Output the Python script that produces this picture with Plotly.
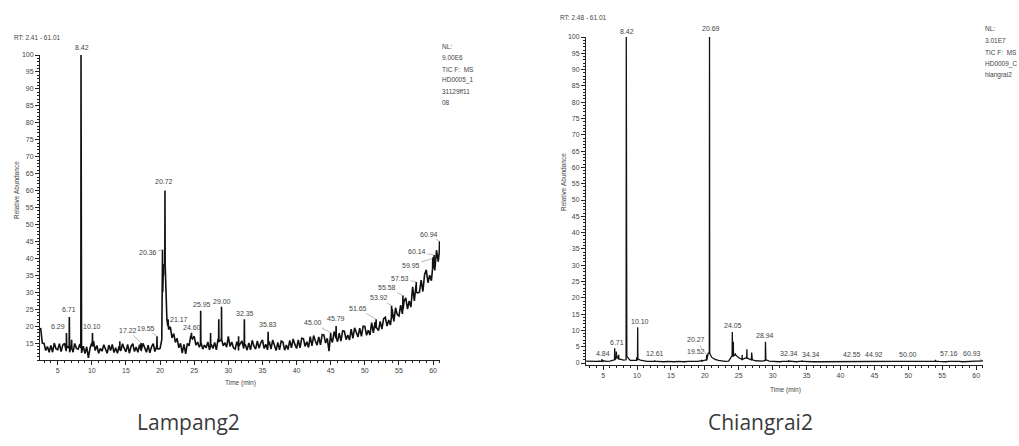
import plotly.graph_objects as go

# ---------------- Lampang2 (left) ----------------
lam_start, lam_step = 2.5, 0.25
lam_base = [
    19.5, 15.0,
    14.9, 12.8, 14.0, 12.3,
    14.3, 12.3, 15.0, 13.3,
    13.0, 14.8, 12.5, 14.4,
    14.9, 12.6, 13.9, 12.3,
    14.2, 12.3, 14.9, 13.4,
    13.2, 14.7, 12.1, 14.1,
    11.9, 13.9, 10.6, 13.6,
    15.0, 15.6, 12.8, 14.3,
    12.0, 13.4, 12.6, 14.5,
    13.1, 12.0, 14.4, 12.8,
    14.6, 12.2, 13.6, 12.0,
    14.1, 12.7, 14.8, 13.4,
    12.4, 14.6, 12.0, 14.0,
    14.8, 12.5, 13.8, 12.3,
    14.5, 12.6, 14.9, 13.5,
    12.3, 14.4, 12.1, 13.9,
    14.8, 12.5, 14.0, 13.2,
    13.4, 16.0, 38.0, 35.0,
    22.0, 19.0, 19.8, 16.5,
    17.8, 15.2, 16.4, 13.6,
    14.9, 12.0, 14.6, 11.8,
    14.9, 14.2, 17.2, 16.2,
    17.0, 14.4, 15.3, 13.8,
    15.2, 13.2, 14.4, 13.6,
    15.3, 13.0, 14.6, 13.4,
    15.2, 13.0, 16.2, 15.6,
    17.0, 14.2, 15.1, 13.8,
    17.0, 14.0, 15.3, 13.6,
    13.2, 15.4, 12.8, 14.8,
    15.6, 13.4, 14.5, 12.9,
    15.0, 13.0, 15.8, 14.1,
    13.2, 15.6, 13.5, 15.1,
    15.9, 13.4, 14.6, 13.0,
    15.5, 13.2, 15.9, 14.0,
    12.8, 15.2, 13.0, 15.6,
    15.3, 12.9, 14.4, 13.1,
    15.8, 13.6, 16.2, 14.6,
    13.4, 15.9, 13.6, 16.4,
    16.3, 14.0, 15.4, 13.7,
    16.9, 14.2, 17.2, 15.6,
    14.4, 16.8, 14.5, 17.5,
    17.4, 15.0, 16.4, 12.6,
    17.8, 15.2, 18.4, 16.6,
    15.4, 17.9, 15.6, 18.6,
    18.5, 16.0, 17.4, 15.9,
    19.1, 16.4, 19.5, 17.8,
    16.8, 19.4, 17.0, 20.0,
    19.9, 17.3, 18.8, 17.4,
    21.0, 18.0, 21.2, 19.4,
    18.7, 21.4, 19.1, 22.2,
    22.6, 20.0, 21.8, 20.3,
    25.0, 21.4, 25.4, 23.4,
    23.0, 26.2, 23.6, 27.4,
    28.3, 25.0, 27.4, 25.6,
    31.6, 27.4, 32.2, 29.8,
    30.0, 33.6, 30.2, 35.2,
    36.6, 32.8, 35.0, 33.4,
    40.4, 36.4, 42.4, 39.0,
    43.5,
]
lam_peak_t = [6.29, 6.71, 7.05, 8.42, 10.10, 14.10, 17.22, 19.55, 20.36, 20.72, 21.17,
              24.60, 25.95, 27.40, 28.60, 29.00, 31.50, 32.35, 35.83, 45.00, 45.79,
              51.65, 53.92, 55.58, 57.53, 59.95, 60.14, 60.94]
lam_peak_h = [18.0, 22.7, 16.0, 100.0, 18.0, 15.5, 15.0, 17.0, 42.5, 60.0, 22.0,
              18.0, 24.5, 18.0, 22.0, 25.7, 17.0, 22.0, 18.3, 18.0, 20.0,
              22.0, 26.0, 29.0, 33.0, 40.0, 41.0, 45.0]
lam_peak_b = [13.5, 13.5, 13.5, 13.5, 14.0, 13.0, 13.0, 13.5, 30.0, 38.0, 20.0,
              16.5, 14.5, 14.0, 15.5, 16.0, 14.0, 14.5, 14.5, 16.5, 16.5,
              19.5, 22.5, 25.0, 30.0, 37.0, 38.0, 42.0]
lam_labels = ["6.29", "6.71", "8.42", "10.10", "17.22", "19.55", "20.36", "20.72", "21.17",
              "24.60", "25.95", "29.00", "32.35", "35.83", "45.00", "45.79", "51.65",
              "53.92", "55.58", "57.53", "59.95", "60.14", "60.94"]
lam_lab_shift = [(-8, 6), (0, 7), (1, 8), (0, 6), (-13, 13), (-11, 8), (-15, -3), (-1, 9), (11, 0),
                 (1, 5), (1, 6), (0, 5), (1, 6), (0, 7), (-18, 10), (0, 8), (-18, 11),
                 (-13, 8), (-16, 8), (-16, 4), (-22, -7), (-17, 3), (-11, 7)]

# ---------------- Chiangrai2 (right) ----------------
chi_start, chi_step = 2.5, 0.5
chi_base = [
    0.6, 0.5, 0.4, 0.5, 0.6, 0.7, 0.5, 0.6, 1.0, 2.2,
    1.2, 0.9, 2.0, 0.8, 0.7, 1.3, 0.9, 0.6, 0.5, 0.5,
    0.6, 0.5, 0.4, 0.4, 0.5, 0.4, 0.4, 0.5, 0.4, 0.4,
    0.5, 0.4, 0.5, 0.5, 0.7, 0.9, 3.0, 1.8, 1.1, 0.8,
    0.6, 0.5, 0.6, 2.2, 2.8, 1.6, 1.1, 1.6, 1.3, 1.0,
    0.7, 0.6, 0.6, 1.0, 0.6, 0.5, 0.5, 0.4, 0.5, 0.5,
    0.6, 0.4, 0.4, 0.5, 0.5, 0.4, 0.4, 0.4, 0.4, 0.4,
    0.4, 0.4, 0.4, 0.4, 0.4, 0.4, 0.4, 0.4, 0.4, 0.4,
    0.5, 0.4, 0.4, 0.4, 0.4, 0.5, 0.4, 0.4, 0.4, 0.4,
    0.4, 0.4, 0.4, 0.4, 0.4, 0.5, 0.4, 0.4, 0.4, 0.4,
    0.4, 0.5, 0.6, 0.8, 0.5, 0.4, 0.4, 0.5, 0.5, 0.6,
    0.5, 0.4, 0.5, 0.5, 0.5, 0.6, 0.6, 0.7,
]
chi_peak_t = [4.84, 6.71, 6.95, 7.30, 8.42, 9.95, 10.10, 12.61, 19.52, 20.27, 20.69,
              24.05, 24.20, 24.50, 25.50, 26.20, 26.90, 28.94, 32.34, 34.34, 42.55,
              44.92, 50.00, 54.00, 57.16, 60.93]
chi_peak_h = [1.2, 4.5, 3.5, 2.5, 100.0, 1.8, 11.0, 0.8, 1.0, 2.5, 100.0,
              9.5, 6.5, 3.0, 2.5, 4.2, 3.2, 6.5, 0.8, 0.8, 0.6,
              0.6, 0.6, 1.0, 0.7, 0.8]
chi_peak_b = [0.5, 1.0, 1.5, 1.2, 1.0, 0.8, 1.2, 0.5, 0.6, 0.9, 3.0,
              2.0, 2.2, 2.5, 1.1, 1.5, 1.0, 0.8, 0.5, 0.5, 0.5,
              0.5, 0.5, 0.6, 0.5, 0.6]
chi_labels = ["4.84", "6.71", "8.42", "10.10", "12.61", "19.52", "20.27", "20.69", "24.05",
              "28.94", "32.34", "34.34", "42.55", "44.92", "50.00", "57.16", "60.93"]
chi_lab_shift = [(1, 6), (2, 6), (1, 6), (2, 6), (0, 7), (-6, 8), (-11, 15), (1, 9), (1, 7),
                 (0, 6), (0, 7), (9, 6), (-6, 7), (0, 7), (0, 7), (-8, 7), (-10, 7)]

nl_left = ["NL:", "9.00E6", "TIC F:  MS", "HD0005_1", "31129ff11", "08"]
nl_right = ["NL:", "3.01E7", "TIC F:  MS", "HD0009_C", "hiangrai2"]


def build(start, step, base, pt, ph, pb, w=0.03):
    pts = [(start + step * i, v) for i, v in enumerate(base)]
    for t, h, b in zip(pt, ph, pb):
        pts += [(t - w, b), (t, h), (t + w, b)]
    pts.sort(key=lambda p: p[0])
    return [p[0] for p in pts], [p[1] for p in pts]


lx, ly = build(lam_start, lam_step, lam_base, lam_peak_t, lam_peak_h, lam_peak_b)
rx, ry = build(chi_start, chi_step, chi_base, chi_peak_t, chi_peak_h, chi_peak_b)

fig = go.Figure()
fig.add_trace(go.Scatter(x=lx, y=ly, mode="lines", line=dict(color="#111", width=1.6),
                         xaxis="x", yaxis="y", hoverinfo="skip", showlegend=False))
fig.add_trace(go.Scatter(x=rx, y=ry, mode="lines", line=dict(color="#111", width=1.3),
                         xaxis="x2", yaxis="y2", hoverinfo="skip", showlegend=False))

W, H = 1019, 446
tickfont = dict(family="Liberation Sans, Arial", size=7, color="#444")
minor = dict(tickmode="linear", tick0=0, dtick=1, ticklen=2, tickcolor="#222", ticks="outside")
axcommon = dict(showline=True, linecolor="#222", linewidth=1, showgrid=False, zeroline=False,
                ticks="outside", ticklen=4, tickcolor="#222", tickwidth=1, tickfont=tickfont,
                minor=minor, automargin=False)

fig.update_layout(
    width=W, height=H, margin=dict(l=0, r=0, t=0, b=0, autoexpand=False),
    paper_bgcolor="white", plot_bgcolor="white",
    xaxis=dict(domain=[40 / W, 440 / W], range=[2.41, 61.01], anchor="y",
               tickmode="linear", tick0=0, dtick=5, **axcommon),
    yaxis=dict(domain=[1 - 360 / H, 1 - 55 / H], range=[10, 100], anchor="x",
               tickmode="array", tickvals=list(range(15, 101, 5)), **axcommon),
    xaxis2=dict(domain=[586 / W, 983 / W], range=[2.48, 61.01], anchor="y2",
                tickmode="linear", tick0=0, dtick=5, **axcommon),
    yaxis2=dict(domain=[1 - 365 / H, 1 - 37 / H], range=[-0.6, 100], anchor="x2",
                tickmode="array", tickvals=list(range(0, 101, 5)), **axcommon),
)

labfont = dict(family="Liberation Sans, Arial", size=7, color="#444")
ann = []


def add_labels(labels, shifts, pt, ph, xref, yref):
    hmap = dict(zip(pt, ph))
    for lab, (dx, dy) in zip(labels, shifts):
        t = float(lab)
        h = hmap[t]
        if abs(dx) >= 10:
            ann.append(dict(x=t, y=h, xref=xref, yref=yref, text=lab, font=labfont,
                            showarrow=True, arrowhead=0, arrowwidth=0.6, arrowcolor="#888",
                            ax=dx, ay=-dy, standoff=0, xanchor="center", yanchor="middle"))
        else:
            ann.append(dict(x=t, y=h, xref=xref, yref=yref, text=lab, font=labfont,
                            showarrow=False, xshift=dx, yshift=dy,
                            xanchor="center", yanchor="middle"))


add_labels(lam_labels, lam_lab_shift, lam_peak_t, lam_peak_h, "x", "y")
add_labels(chi_labels, chi_lab_shift, chi_peak_t, chi_peak_h, "x2", "y2")

small = dict(family="Liberation Sans, Arial", size=6.5, color="#444")


def paper_text(txt, xp, yp, font, xanchor="center", angle=0):
    ann.append(dict(x=xp / W, y=1 - yp / H, xref="paper", yref="paper", text=txt,
                    showarrow=False, xanchor=xanchor, yanchor="middle", textangle=angle,
                    font=font))


paper_text("RT: 2.41 - 61.01", 12, 37, small, "left")
paper_text("RT: 2.48 - 61.01", 558, 17, small, "left")
paper_text("Relative Abundance", 16, 190, small, "center", -90)
paper_text("Relative Abundance", 563, 182, small, "center", -90)
paper_text("Time (min)", 240, 383, small)
paper_text("Time (min)", 785, 390, small)

for i, line in enumerate(nl_left):
    paper_text(line, 440, 47 + 11 * i, small, "left")
for i, line in enumerate(nl_right):
    paper_text(line, 983, 29 + 11.5 * i, small, "left")

titlefont = dict(family="Open Sans, Noto Sans, sans-serif", size=21, color="#3a3a3a")
paper_text("Lampang2", 188, 422, titlefont)
paper_text("Chiangrai2", 760, 422, titlefont)

fig.update_layout(annotations=ann)
fig.write_html("out.html", post_script="document.body.style.margin='0';",
               config={"displayModeBar": False})
